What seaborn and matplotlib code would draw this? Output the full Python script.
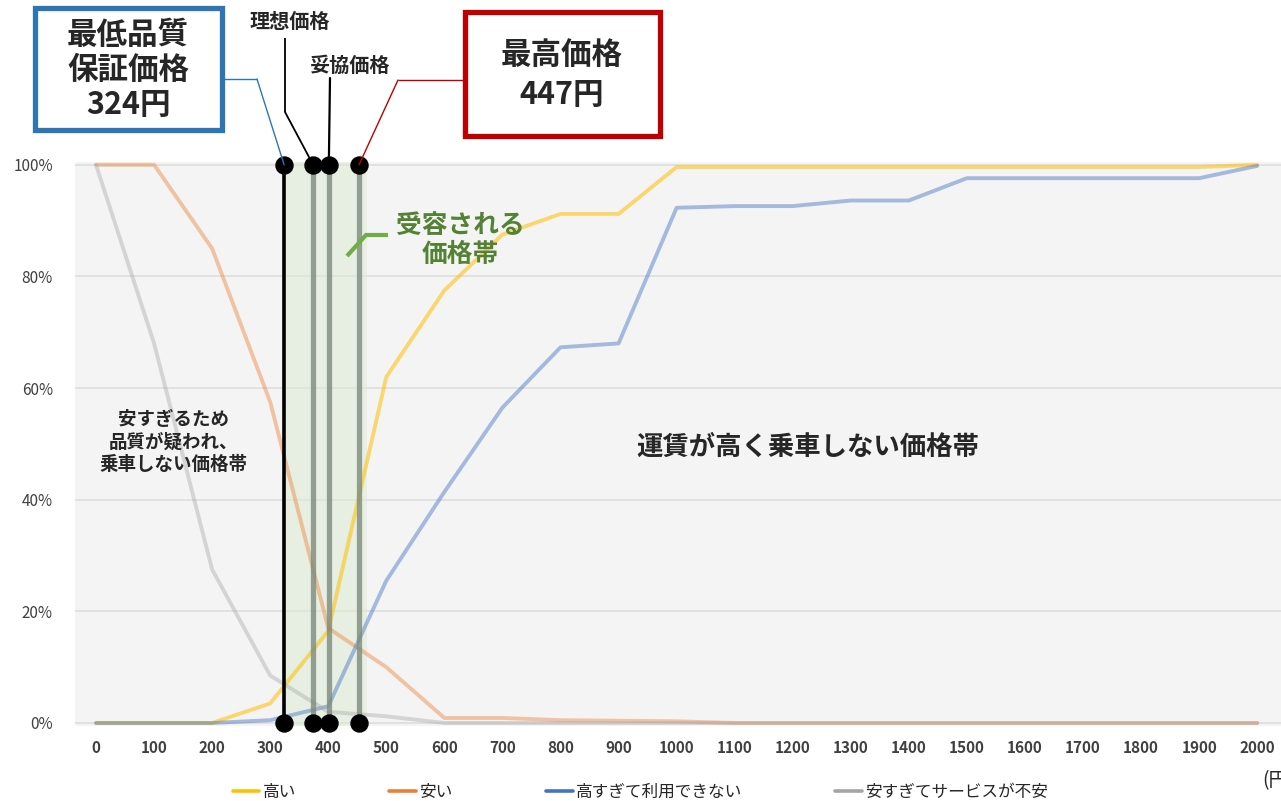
import numpy as np
import pandas as pd
import matplotlib
matplotlib.use("Agg")
import matplotlib.pyplot as plt
import seaborn as sns
from matplotlib.patches import Rectangle, ConnectionPatch
from matplotlib.lines import Line2D

# ---------------- data ----------------
prices = [0, 100, 200, 300, 400, 500, 600, 700, 800, 900, 1000,
          1100, 1200, 1300, 1400, 1500, 1600, 1700, 1800, 1900, 2000]
takai = [0, 0, 0, 3.5, 16.5, 62, 77.5, 87.5, 91.2, 91.2, 99.6,
         99.6, 99.6, 99.6, 99.6, 99.6, 99.6, 99.6, 99.6, 99.6, 100]
yasui = [100, 100, 85, 57.5, 17, 10, 0.9, 0.9, 0.5, 0.4, 0.3,
         0, 0, 0, 0, 0, 0, 0, 0, 0, 0]
takasugi = [0, 0, 0, 0.5, 3, 25.5, 41.4, 56.5, 67.3, 68, 92.3,
            92.6, 92.6, 93.6, 93.6, 97.6, 97.6, 97.6, 97.6, 97.6, 99.8]
yasusugi = [100, 68, 27.5, 8.5, 2, 1.2, 0, 0, 0, 0, 0,
            0, 0, 0, 0, 0, 0, 0, 0, 0, 0]
series_names = ["高い", "安い", "高すぎて利用できない", "安すぎてサービスが不安"]
series_colors = ["#FFC000", "#ED7D31", "#4472C4", "#A5A5A5"]
series_alpha = [0.55, 0.42, 0.45, 0.4]
yticks = [0, 20, 40, 60, 80, 100]
ytick_labels = ["0%", "20%", "40%", "60%", "80%", "100%"]

# key price points (positions as drawn) and band
mark_prices = [324, 374, 401, 453]
band = [324, 467]

# ---------------- style ----------------
sns.set_theme(style="white")
plt.rcParams["font.family"] = ["Noto Sans CJK JP", "DejaVu Sans"]

W, H = 1281, 801
fig = plt.figure(figsize=(W / 100, H / 100), dpi=100)

def fx(x):
    return x / W

def fy(y):
    return 1 - y / H

ax = fig.add_axes([fx(75), fy(726), fx(1281) - fx(75), fy(162) - fy(726)])
ax.set_facecolor("#f4f4f4")
ax.set_xlim(-36.2, 2041)
ax.set_ylim(-0.54, 100.5)

# grid
for yv in yticks:
    ax.axhline(yv, color="#dedede", lw=1.2, zorder=0)

# band
ax.axvspan(band[0], band[1], color="#dcebd2", alpha=0.55, zorder=1, lw=0)

for name, vals, col, al in zip(series_names, [takai, yasui, takasugi, yasusugi],
                               series_colors, series_alpha):
    d = pd.DataFrame({"price": prices, "value": vals})
    sns.lineplot(data=d, x="price", y="value", color=col, lw=2.8, alpha=al,
                 ax=ax, zorder=2)

# vertical marks
ax.vlines(mark_prices[0], 0, 100, color="black", lw=2.6, zorder=4)
ax.vlines(mark_prices[1:], 0, 100, color="#7d8a7d", lw=3.8, alpha=0.8, zorder=4)
ax.scatter(mark_prices, [100] * 4, s=150, color="black", zorder=6, clip_on=False)
ax.scatter(mark_prices, [0] * 4, s=150, color="black", zorder=6, clip_on=False)

# ticks
ax.set_xticks(prices)
ax.set_xticklabels([str(p) for p in prices], fontsize=11, color="#404040",
                   fontweight="bold")
ax.set_yticks(yticks)
ax.set_yticklabels(ytick_labels, fontsize=11, color="#404040")
ax.tick_params(axis="both", length=0)
ax.tick_params(axis="x", pad=10)
ax.tick_params(axis="y", pad=16)
ax.set_xlabel("")
ax.set_ylabel("")
for s in ax.spines.values():
    s.set_visible(False)

# ---------------- annotations ----------------
fig.add_artist(Rectangle((fx(35), fy(130)), fx(222) - fx(35), fy(8) - fy(130),
                         transform=fig.transFigure, facecolor="white",
                         edgecolor="#2E75B6", lw=3.8, zorder=10))
fig.text(fx(128), fy(70), "最低品質\n保証価格\n324円", ha="center", va="center",
         fontsize=22, fontweight="bold", linespacing=1.12, zorder=11)
fig.add_artist(Rectangle((fx(465), fy(136)), fx(660) - fx(465), fy(12) - fy(136),
                         transform=fig.transFigure, facecolor="white",
                         edgecolor="#C00000", lw=3.8, zorder=10))
fig.text(fx(562), fy(75), "最高価格\n447円", ha="center", va="center",
         fontsize=22, fontweight="bold", linespacing=1.3, zorder=11)

fig.text(fx(290), fy(21), "理想価格", ha="center", va="center",
         fontsize=14.5, fontweight="bold")
fig.text(fx(350), fy(65), "妥協価格", ha="center", va="center",
         fontsize=14.5, fontweight="bold")

def fig_line(pts, color, lw):
    fig.add_artist(Line2D([fx(p[0]) for p in pts], [fy(p[1]) for p in pts],
                          transform=fig.transFigure, color=color, lw=lw,
                          solid_capstyle="butt", zorder=9))

def connect(p_fig, x_data, color, lw):
    cp = ConnectionPatch(xyA=(fx(p_fig[0]), fy(p_fig[1])), coordsA=fig.transFigure,
                         xyB=(x_data, 100), coordsB=ax.transData,
                         color=color, lw=lw, zorder=5)
    fig.add_artist(cp)

fig_line([(222, 79), (257, 79)], "#2E75B6", 1.0)
connect((257, 79), mark_prices[0], "#2E75B6", 1.0)
fig_line([(285, 38), (285, 112)], "black", 1.3)
connect((285, 112), mark_prices[1], "black", 1.3)
connect((330, 78), mark_prices[2], "black", 1.6)
fig_line([(465, 80), (398, 80)], "#C00000", 1.0)
connect((398, 80), mark_prices[3], "#C00000", 1.0)

fig_line([(388, 235), (366, 235), (347, 256)], "#70AD47", 3.0)
fig.text(fx(460), fy(240), "受容される\n価格帯", ha="center", va="center",
         fontsize=18.5, fontweight="bold", color="#548235", linespacing=1.1)

fig.text(fx(173), fy(442), "安すぎるため\n品質が疑われ、\n乗車しない価格帯",
         ha="center", va="center", fontsize=13.3, fontweight="bold",
         linespacing=1.25)
fig.text(fx(808), fy(447), "運賃が高く乗車しない価格帯", ha="center", va="center",
         fontsize=19, fontweight="bold")

handles = [Line2D([0], [0], color=c, lw=2.6) for c in series_colors]
fig.legend(handles, series_names, loc="center", bbox_to_anchor=(0.5, fy(792)),
           ncol=4, frameon=False, fontsize=12, handlelength=1.6,
           handletextpad=0.2, columnspacing=5.6)
fig.text(fx(1262), fy(781), "(円)", ha="left", va="center", fontsize=14)

fig.savefig("out.png", dpi=100)
